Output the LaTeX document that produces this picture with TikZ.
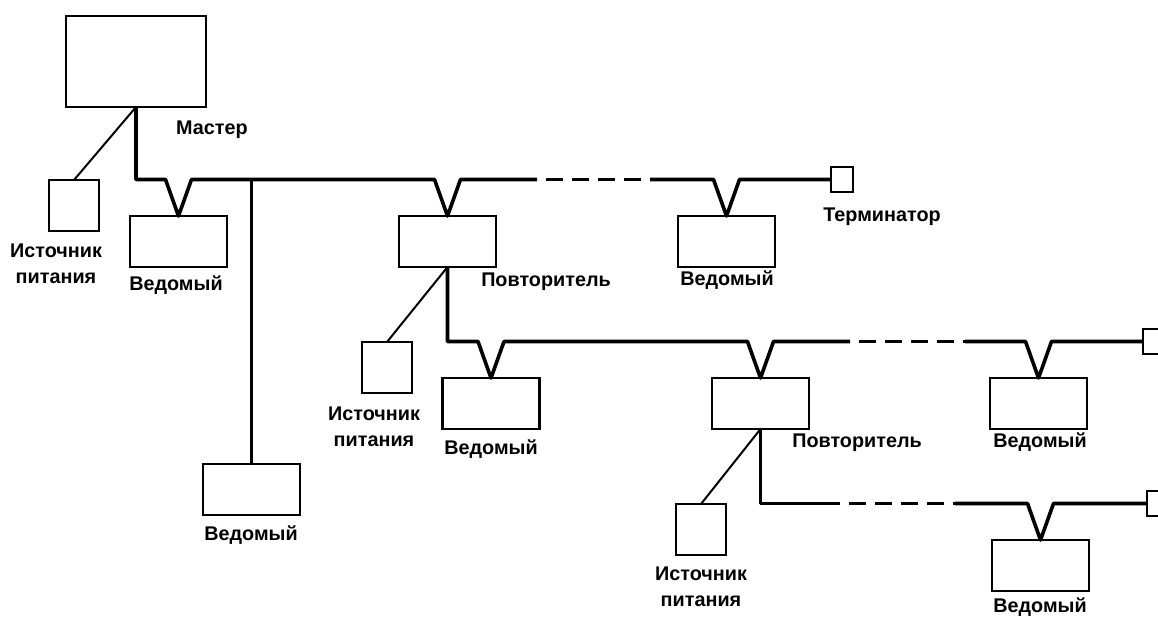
\documentclass[tikz,border=0pt]{standalone}
\usepackage{fontspec}
\setmainfont{Liberation Sans}
\usetikzlibrary{calc}
\begin{document}
\begin{tikzpicture}[x=1pt,y=-1pt,
  every node/.style={outer sep=0pt},
  unit/.style={draw, line width=2.6pt, inner sep=0pt, minimum width=97pt, minimum height=51pt},
  psu/.style={draw, line width=2.2pt, inner sep=0pt, minimum width=50pt, minimum height=51pt},
  term/.style={draw, line width=2.2pt, inner sep=0pt, minimum width=22pt, minimum height=25pt},
  bus/.style={line width=3.6pt, line join=round},
  gap/.style={line width=3.6pt, dash pattern=on 17pt off 9pt, dash phase=17pt},
  feed/.style={line width=2pt},
  lbl/.style={font=\fontsize{19.8}{25.5}\selectfont\bfseries, inner sep=0pt, align=center}
]
\useasboundingbox (0,0) rectangle (1158,617);
\begin{scope}
\clip (0,0) rectangle (1158,617);

% devices
\node[draw, line width=2.6pt, inner sep=0pt, minimum width=140pt, minimum height=91pt] (master) at (136,61.5) {};
\node[psu]  (ps1) at (74,205.5) {};
\node[unit] (s1)  at (178.5,241.5) {};
\node[unit] (s2)  at (251.5,489.5) {};
\node[unit] (r1)  at (447.5,241.5) {};
\node[unit] (s3)  at (726.5,241.5) {};
\node[term] (t1)  at (842,179.5) {};
\node[psu]  (ps2) at (387,367.5) {};
\node[unit] (s4)  at (491,403.5) {};
\node[unit] (r2)  at (760.5,403.5) {};
\node[unit] (s5)  at (1038.5,403.5) {};
\node[term] (t2)  at (1154,341.5) {};
\node[psu]  (ps3) at (701,529.5) {};
\node[unit] (s6)  at (1040.5,565.5) {};
\node[term] (t3)  at (1158,503.5) {};

% labels
\node[lbl] (lmaster) at (212,130) {Мастер};
\node[lbl] (lps1) at (56,264) {Источник\\питания};
\node[lbl] (ls1)  at (176,285) {Ведомый};
\node[lbl] (ls2)  at (251,535) {Ведомый};
\node[lbl] (lr1)  at (546,282) {Повторитель};
\node[lbl] (ls3)  at (727,280) {Ведомый};
\node[lbl] (lt1)  at (882,217) {Терминатор};
\node[lbl] (lps2) at (374,427) {Источник\\питания};
\node[lbl] (ls4)  at (491,449) {Ведомый};
\node[lbl] (lr2)  at (857,443) {Повторитель};
\node[lbl] (ls5)  at (1040,442) {Ведомый};
\node[lbl] (lps3) at (701,587) {Источник\\питания};
\node[lbl] (ls6)  at (1040,607) {Ведомый};

% dashed bus stretches
\coordinate (d1a) at (537,179.5);
\coordinate (d1b) at (650,179.5);
\coordinate (d2a) at (850,341.5);
\coordinate (d2b) at (965,341.5);
\coordinate (d3a) at (840,503.5);
\coordinate (d3b) at (955,503.5);

% power feeds
\draw[feed] (master.south) -- (ps1.north);
\draw[feed] (r1.south) -- (ps2.north);
\draw[feed] (r2.south) -- (ps3.north);

% main bus
\draw[bus] (master.south) |- ($(s1.north)+(-13,-36.5)$) -- (s1.north) -- ++(13,-36.5)
  -- ($(r1.north)+(-13,-36.5)$) -- (r1.north) -- ++(13,-36.5) -- (d1a);
\draw[gap] (d1a) -- (d1b);
\draw[bus] (d1b) -- ($(s3.north)+(-13,-36.5)$) -- (s3.north) -- ++(13,-36.5) -- (t1.west);
\draw[bus] (s2.north) -- (s2.north |- t1.west);

% second segment
\draw[bus] (r1.south) |- ($(s4.north)+(-13,-36.5)$) -- (s4.north) -- ++(13,-36.5)
  -- ($(r2.north)+(-13,-36.5)$) -- (r2.north) -- ++(13,-36.5) -- (d2a);
\draw[gap] (d2a) -- (d2b);
\draw[bus] (d2b) -- ($(s5.north)+(-13,-36.5)$) -- (s5.north) -- ++(13,-36.5) -- (t2.west);

% third segment
\draw[bus] (r2.south) |- (d3a);
\draw[gap] (d3a) -- (d3b);
\draw[bus] (d3b) -- ($(s6.north)+(-13,-36.5)$) -- (s6.north) -- ++(13,-36.5) -- (t3.west);
\end{scope}
\end{tikzpicture}
\end{document}
